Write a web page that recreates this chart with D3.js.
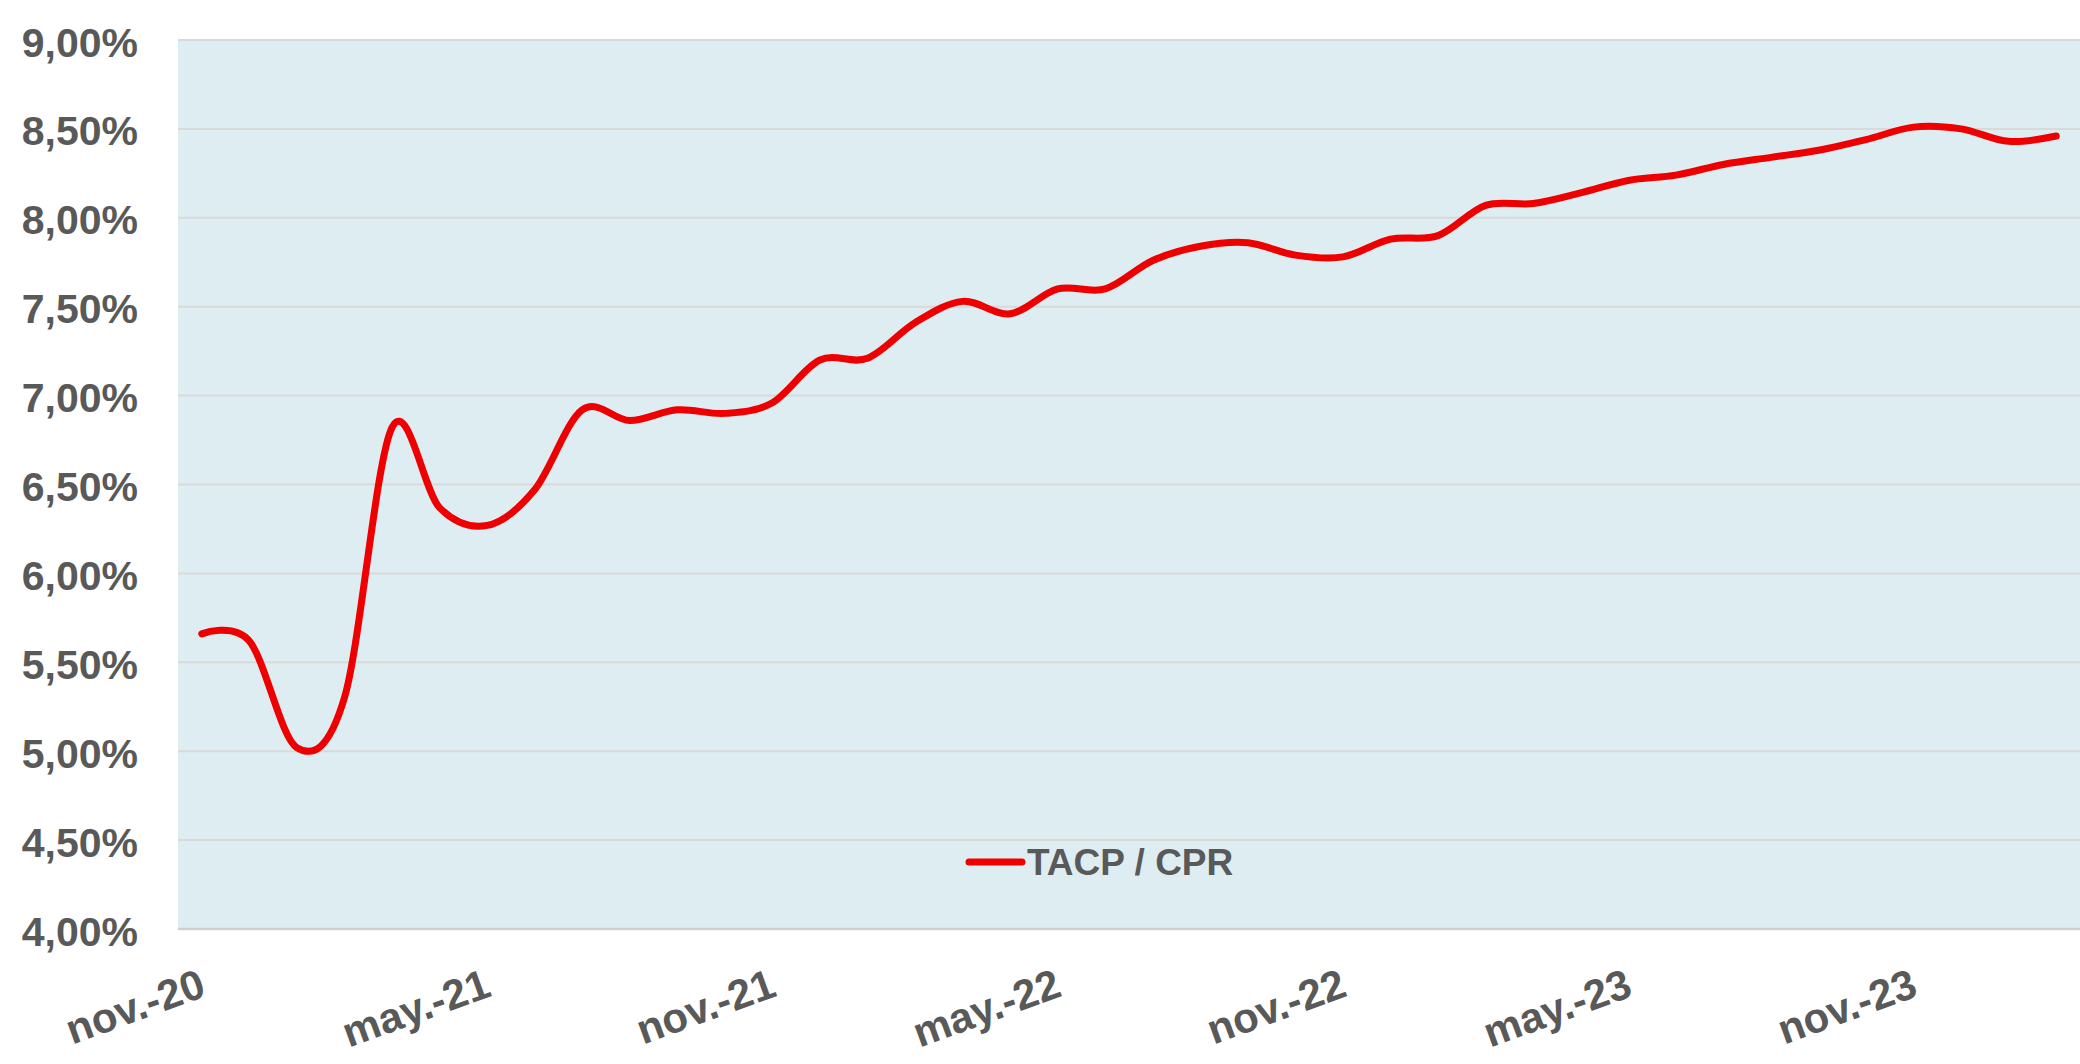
<!DOCTYPE html>
<html>
<head>
<meta charset="utf-8">
<script src="https://cdn.jsdelivr.net/npm/d3@7"></script>
<style>
  html, body { margin: 0; padding: 0; background: #ffffff; }
  svg { display: block; }
</style>
</head>
<body>
<svg id="chart" width="2080" height="1064"></svg>
<script>
const categories = ["nov.-20","dic.-20","ene.-21","feb.-21","mar.-21","abr.-21","may.-21","jun.-21","jul.-21","ago.-21","sept.-21","oct.-21","nov.-21","dic.-21","ene.-22","feb.-22","mar.-22","abr.-22","may.-22","jun.-22","jul.-22","ago.-22","sept.-22","oct.-22","nov.-22","dic.-22","ene.-23","feb.-23","mar.-23","abr.-23","may.-23","jun.-23","jul.-23","ago.-23","sept.-23","oct.-23","nov.-23","dic.-23","ene.-24","feb.-24"];
const values = [5.66,5.62,5.02,5.30,6.82,6.37,6.27,6.47,6.92,6.86,6.92,6.90,6.96,7.20,7.21,7.41,7.53,7.46,7.60,7.60,7.76,7.84,7.86,7.79,7.78,7.88,7.90,8.07,8.08,8.14,8.21,8.24,8.30,8.34,8.38,8.44,8.51,8.50,8.43,8.46];
const xTickLabels = ["nov.-20","may.-21","nov.-21","may.-22","nov.-22","may.-23","nov.-23"];
const yTicks = [4,4.5,5,5.5,6,6.5,7,7.5,8,8.5,9];
const seriesName = "TACP / CPR";

(function () {
const svg = d3.select("#chart");
const pLeft = 178, pRight = 2080, pTop = 40, pBottom = 929;

const x = d3.scalePoint().domain(categories).range([pLeft, pRight]).padding(0.5);
const y = d3.scaleLinear().domain([4, 9]).range([pBottom, pTop]);

const locale = d3.formatLocale({decimal: ",", thousands: ".", grouping: [3], currency: ["", "€"]});
const fmt = v => locale.format(".2f")(v) + "%";

svg.append("rect").attr("x", pLeft).attr("y", pTop)
  .attr("width", pRight - pLeft).attr("height", pBottom - pTop)
  .attr("fill", "#deedf2");

svg.append("g").selectAll("line").data(yTicks.filter(d => d > 4)).join("line")
  .attr("x1", pLeft).attr("x2", pRight)
  .attr("y1", d => y(d)).attr("y2", d => y(d))
  .attr("stroke", "#d9d9d9").attr("stroke-width", 2);

svg.append("line").attr("x1", pLeft).attr("x2", pRight)
  .attr("y1", pBottom).attr("y2", pBottom)
  .attr("stroke", "#cfcfcf").attr("stroke-width", 2.5);

const yAxis = d3.axisLeft(y).tickValues(yTicks).tickFormat(fmt).tickSize(0).tickPadding(0);
const gy = svg.append("g").attr("transform", `translate(${pLeft - 40},0)`).call(yAxis);
gy.select(".domain").remove();
gy.selectAll("text")
  .attr("fill", "#595959")
  .style("font-family", "Liberation Sans, Arial, sans-serif")
  .style("font-weight", "bold")
  .style("font-size", "41px")
  .attr("dy", "0.39em");

const xAxis = d3.axisBottom(x).tickValues(xTickLabels).tickSize(0).tickPadding(0);
const gx = svg.append("g").attr("transform", `translate(0,${pBottom})`).call(xAxis);
gx.select(".domain").remove();
gx.selectAll(".tick text")
  .attr("fill", "#595959")
  .style("font-family", "Liberation Sans, Arial, sans-serif")
  .style("font-weight", "bold")
  .style("font-size", "42px")
  .attr("text-anchor", "end")
  .attr("x", 0).attr("y", 0)
  .attr("dy", "0.72em")
  .attr("transform", "translate(-5,38) rotate(-20)");

const line = d3.line()
  .x((d, i) => x(categories[i]))
  .y(d => y(d))
  .curve(d3.curveCardinal.tension(0));

svg.append("path").datum(values)
  .attr("d", line)
  .attr("fill", "none")
  .attr("stroke", "#ee0000")
  .attr("stroke-width", 7)
  .attr("stroke-linecap", "round")
  .attr("stroke-linejoin", "round");

const lg = svg.append("g");
lg.append("line").attr("x1", 969).attr("x2", 1022).attr("y1", 862).attr("y2", 862)
  .attr("stroke", "#ee0000").attr("stroke-width", 7).attr("stroke-linecap", "round");
lg.append("text").attr("x", 1027).attr("y", 862).attr("dy", "0.36em")
  .attr("fill", "#595959")
  .style("font-family", "Liberation Sans, Arial, sans-serif")
  .style("font-weight", "bold")
  .style("font-size", "37px")
  .text(seriesName);
})();
</script>
</body>
</html>
